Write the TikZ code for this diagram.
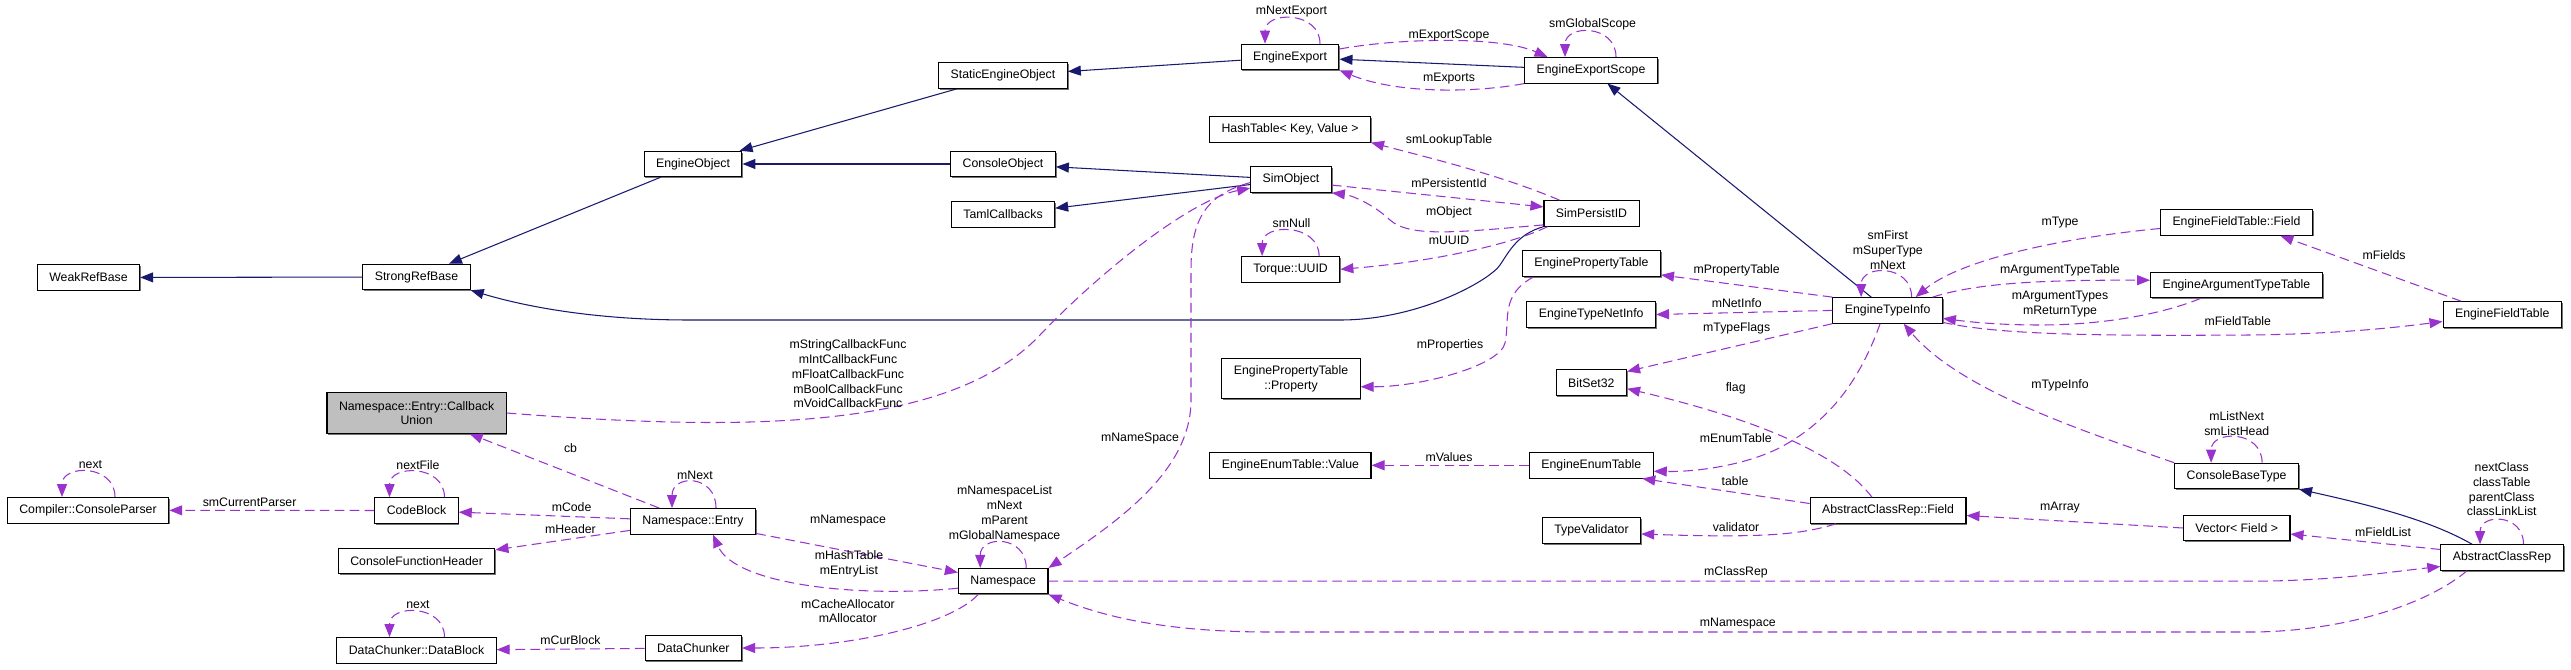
\documentclass[tikz,border=0pt]{standalone}
\usepackage{fontspec}
\setmainfont{Liberation Sans}
\usetikzlibrary{arrows.meta, shadows}
\definecolor{inheritblue}{RGB}{25, 25, 112}
\definecolor{usepurple}{RGB}{154, 50, 205}
\definecolor{rootgray}{RGB}{191, 191, 191}
\tikzset{
    classbox/.style={rectangle, draw=black, fill=white, line width=0.6pt, minimum height=0.51cm, inner xsep=0.24cm, inner ysep=0.05cm, align=center, font=\fontsize{7}{8.4}\selectfont, drop shadow={shadow xshift=0.025cm, shadow yshift=-0.025cm, fill=black!55, opacity=1}},
    twoline/.style={classbox, minimum height=0.81cm},
    rootbox/.style={twoline, fill=rootgray},
    inherit/.style={-{Triangle[length=0.26cm, width=0.2cm]}, inheritblue, line width=0.6pt},
    uses/.style={-{Triangle[length=0.26cm, width=0.2cm]}, usepurple, line width=0.6pt, dash pattern=on 5.5pt off 3pt},
    lbl/.style={align=center, inner sep=0pt, font=\fontsize{7}{8.4}\selectfont}
}

\begin{document}
\begin{tikzpicture}[x=0.02cm, y=-0.02cm]
    \useasboundingbox (0,0) rectangle (2571,669);

    % classes
    \node (weakrefbase) [classbox] at (88.5,277.5) {WeakRefBase};
    \node (strongrefbase) [classbox] at (416.5,277) {StrongRefBase};
    \node (engineobject) [classbox] at (693,164) {EngineObject};
    \node (staticengineobject) [classbox] at (1003,75.7) {StaticEngineObject};
    \node (engineexport) [classbox] at (1290,57) {EngineExport};
    \node (engineexportscope) [classbox] at (1591,70.3) {EngineExportScope};
    \node (hashtable) [classbox] at (1290,129.3) {HashTable< Key, Value >};
    \node (consoleobject) [classbox] at (1003,164) {ConsoleObject};
    \node (simobject) [classbox] at (1291,179.6) {SimObject};
    \node (tamlcallbacks) [classbox] at (1003,214.5) {TamlCallbacks};
    \node (simpersistid) [classbox] at (1591.5,213.4) {SimPersistID};
    \node (torqueuuid) [classbox] at (1290.6,269.3) {Torque::UUID};
    \node (propertytable) [classbox] at (1591.4,263.7) {EnginePropertyTable};
    \node (typenetinfo) [classbox] at (1591.2,314.5) {EngineTypeNetInfo};
    \node (property) [twoline] at (1291,378.7) {EnginePropertyTable\\::Property};
    \node (bitset) [classbox] at (1591.3,382.7) {BitSet32};
    \node (enumvalue) [classbox] at (1290.4,465.3) {EngineEnumTable::Value};
    \node (enumtable) [classbox] at (1591.3,465.3) {EngineEnumTable};
    \node (typevalidator) [classbox] at (1591.5,530.5) {TypeValidator};
    \node (namespace) [classbox] at (1003.2,581.2) {Namespace};
    \node (callbackunion) [rootbox] at (416.6,413) {Namespace::Entry::Callback\\Union};
    \node (consoleparser) [classbox] at (88,510.3) {Compiler::ConsoleParser};
    \node (codeblock) [classbox] at (416.5,510.5) {CodeBlock};
    \node (nsentry) [classbox] at (693,521.3) {Namespace::Entry};
    \node (funcheader) [classbox] at (416.6,561.2) {ConsoleFunctionHeader};
    \node (datablock) [classbox] at (416.5,650.3) {DataChunker::DataBlock};
    \node (datachunker) [classbox] at (693.3,648) {DataChunker};
    \node (typeinfo) [classbox] at (1887.6,310.4) {EngineTypeInfo};
    \node (fieldtablefield) [classbox] at (2236.4,222.5) {EngineFieldTable::Field};
    \node (argtypetable) [classbox] at (2236.4,285.2) {EngineArgumentTypeTable};
    \node (fieldtable) [classbox] at (2502.2,314.5) {EngineFieldTable};
    \node (classrepfield) [classbox] at (1888,510.5) {AbstractClassRep::Field};
    \node (consolebasetype) [classbox] at (2236.6,476) {ConsoleBaseType};
    \node (vectorfield) [classbox] at (2236.6,528) {Vector< Field >};
    \node (classrep) [classbox] at (2502,557.5) {AbstractClassRep};

    % inheritance
    \draw [inherit] (strongrefbase) -- (weakrefbase);
    \draw [inherit] (engineobject) -- (strongrefbase);
    \draw [inherit] (staticengineobject) -- (engineobject);
    \draw [inherit] (consoleobject) -- (engineobject);
    \draw [inherit] (engineexport) -- (staticengineobject);
    \draw [inherit] (engineexportscope) -- (engineexport);
    \draw [inherit] (simobject) -- (consoleobject);
    \draw [inherit] (simobject) -- (tamlcallbacks);
    \draw [inherit] (simpersistid.south west) .. controls (1518,234) and (1510,250) .. (1500,265) .. controls (1490,280) and (1420,320) .. (1340,320) -- (690,320) .. controls (600,320) and (530,308) .. (strongrefbase.south east);
    \draw [inherit] (typeinfo) -- (engineexportscope);
    \draw [inherit] ([xshift=-0.6cm]classrep.north) .. controls (2430,520) and (2370,505) .. (consolebasetype.south east);

    % usage
    \draw [uses] ([xshift=0.54cm]consoleparser.north) .. controls +(0,-33) and +(0,-33) .. ([xshift=-0.52cm]consoleparser.north);
    \draw [uses] (codeblock) -- (consoleparser);
    \draw [uses] ([xshift=0.56cm]codeblock.north) .. controls +(0,-33) and +(0,-33) .. ([xshift=-0.54cm]codeblock.north);
    \draw [uses] (nsentry) -- (codeblock);
    \draw [uses] (nsentry) -- (funcheader);
    \draw [uses] (nsentry) -- (callbackunion);
    \draw [uses] ([xshift=0.46cm]nsentry.north) .. controls +(0,-34) and +(0,-34) .. ([xshift=-0.42cm]nsentry.north);
    \draw [uses] (callbackunion.east) .. controls (750,432) and (950,430) .. (1040,335) .. controls (1100,272) and (1190,200) .. ([yshift=-0.17cm]simobject.west);
    \draw [uses] (nsentry) -- (namespace);
    \draw [uses] ([yshift=-0.14cm]namespace.west) .. controls (860,598) and (735,585) .. ([xshift=0.4cm]nsentry.south);
    \draw [uses] ([xshift=0.46cm]namespace.north) .. controls +(0,-33) and +(0,-33) .. ([xshift=-0.46cm]namespace.north);
    \draw [uses] ([xshift=-0.5cm]namespace.south) .. controls (950,625) and (850,648) .. (datachunker.east);
    \draw [uses] (datachunker) -- (datablock);
    \draw [uses] ([xshift=0.56cm]datablock.north) .. controls +(0,-33) and +(0,-33) .. ([xshift=-0.54cm]datablock.north);
    \draw [uses] ([yshift=-0.06cm]simobject.west) .. controls (1205,195) and (1191,220) .. (1191,270) -- (1191,400) .. controls (1191,470) and (1120,520) .. (namespace.north east);
    \draw [uses] ([xshift=-0.7cm]classrep.south) .. controls (2420,610) and (2330,632) .. (2250,632) -- (1270,632) .. controls (1160,632) and (1100,615) .. (namespace.south east);
    \draw [uses] (namespace.east) -- (2250,581.2) .. controls (2330,581.2) and (2390,572) .. ([yshift=-0.18cm]classrep.west);
    \draw [uses] ([xshift=0.6cm]engineexport.north) .. controls +(0,-33) and +(0,-33) .. ([xshift=-0.5cm]engineexport.north);
    \draw [uses] ([yshift=0.16cm]engineexport.east) .. controls (1400,38) and (1500,36) .. ([xshift=-0.87cm]engineexportscope.north);
    \draw [uses] (engineexportscope.south west) .. controls (1480,92) and (1400,95) .. (engineexport.south east);
    \draw [uses] ([xshift=0.5cm]engineexportscope.north) .. controls +(0,-33) and +(0,-33) .. ([xshift=-0.52cm]engineexportscope.north);
    \draw [uses] ([xshift=-0.64cm]simpersistid.north) .. controls (1500,175) and (1430,158) .. (hashtable.south east);
    \draw [uses] ([yshift=-0.11cm]simobject.east) -- ([yshift=0.13cm]simpersistid.west);
    \draw [uses] ([yshift=-0.23cm]simpersistid.west) .. controls (1460,232) and (1410,238) .. (1390,220) .. controls (1372,203) and (1350,195) .. (simobject.south east);
    \draw [uses] ([xshift=-0.88cm]simpersistid.south) .. controls (1510,245) and (1430,262) .. (torqueuuid.east);
    \draw [uses] ([xshift=0.57cm]torqueuuid.north) .. controls +(0,-33) and +(0,-33) .. ([xshift=-0.57cm]torqueuuid.north);
    \draw [uses] (typeinfo.north west) -- ([yshift=0.04cm]propertytable.south east);
    \draw [uses] (typeinfo.west) -- (typenetinfo.east);
    \draw [uses] (typeinfo.south west) -- ([yshift=-0.04cm]bitset.north east);
    \draw [uses] ([xshift=-0.32cm]classrepfield.north) .. controls (1840,455) and (1760,420) .. ([yshift=-0.12cm]bitset.east);
    \draw [uses] ([xshift=-1.16cm]propertytable.south) .. controls (1500,295) and (1510,320) .. (1505,343) .. controls (1500,366) and (1420,387) .. ([yshift=-0.16cm]property.east);
    \draw [uses] ([xshift=-0.15cm]typeinfo.south) .. controls (1860,380) and (1830,420) .. (1783,446) .. controls (1750,464) and (1700,472) .. ([yshift=-0.12cm]enumtable.east);
    \draw [uses] ([yshift=0.14cm]classrepfield.west) -- ([xshift=-0.23cm]enumtable.south east);
    \draw [uses] (enumtable) -- (enumvalue);
    \draw [uses] ([xshift=-1.04cm]classrepfield.south) .. controls (1800,535) and (1760,538) .. ([yshift=-0.07cm]typevalidator.east);
    \draw [uses] ([xshift=0.48cm]typeinfo.north) .. controls +(0,-33) and +(0,-33) .. ([xshift=-0.53cm]typeinfo.north);
    \draw [uses] ([yshift=-0.12cm]fieldtablefield.west) .. controls (2060,238) and (1960,260) .. ([xshift=0.56cm]typeinfo.north);
    \draw [uses] ([xshift=0.9cm]typeinfo.north) .. controls (1980,282) and (2050,280) .. ([yshift=0.1cm]argtypetable.west);
    \draw [uses] ([xshift=-0.72cm]argtypetable.south) .. controls (2160,315) and (2100,325) .. (2040,325) .. controls (2000,325) and (1970,322) .. ([yshift=-0.16cm]typeinfo.east);
    \draw [uses] ([yshift=-0.24cm]typeinfo.east) .. controls (2000,335) and (2100,336) .. (2250,335) .. controls (2340,334) and (2400,327) .. ([yshift=-0.14cm]fieldtable.west);
    \draw [uses] ([xshift=-0.82cm]fieldtable.north) -- ([xshift=0.88cm]fieldtablefield.south);
    \draw [uses] (consolebasetype.north west) .. controls (2080,430) and (1960,390) .. ([xshift=0.32cm]typeinfo.south);
    \draw [uses] ([xshift=0.51cm]consolebasetype.north) .. controls +(0,-33) and +(0,-33) .. ([xshift=-0.51cm]consolebasetype.north);
    \draw [uses] (vectorfield.west) -- ([yshift=-0.1cm]classrepfield.east);
    \draw [uses] ([yshift=0.16cm]classrep.west) -- ([yshift=-0.12cm]vectorfield.east);
    \draw [uses] ([xshift=0.43cm]classrep.north) .. controls +(0,-31) and +(0,-31) .. ([xshift=-0.44cm]classrep.north);

    % member labels
    \node (l-parsernext) [lbl] at (90.5,465) {next};
    \node (l-nextfile) [lbl] at (418,465) {nextFile};
    \node (l-blocknext) [lbl] at (418,605) {next};
    \node (l-entrynext) [lbl] at (695,475.7) {mNext};
    \node (l-nsself) [lbl] at (1004.6,513.9) {mNamespaceList\\mNext\\mParent\\mGlobalNamespace};
    \node (l-nextexport) [lbl] at (1291.5,11.7) {mNextExport};
    \node (l-globalscope) [lbl] at (1592.6,24.3) {smGlobalScope};
    \node (l-smnull) [lbl] at (1291.5,223.3) {smNull};
    \node (l-typeself) [lbl] at (1887.8,250.3) {smFirst\\mSuperType\\mNext};
    \node (l-listself) [lbl] at (2236.7,423.4) {mListNext\\smListHead};
    \node (l-classself) [lbl] at (2501.7,489.3) {nextClass\\classTable\\parentClass\\classLinkList};
    \node (l-curparser) [lbl] at (249.6,502.7) {smCurrentParser};
    \node (l-code) [lbl] at (571.6,506.7) {mCode};
    \node (l-header) [lbl] at (570.5,529) {mHeader};
    \node (l-cb) [lbl] at (570.5,447.7) {cb};
    \node (l-callbacks) [lbl] at (848,374) {mStringCallbackFunc\\mIntCallbackFunc\\mFloatCallbackFunc\\mBoolCallbackFunc\\mVoidCallbackFunc};
    \node (l-entryns) [lbl] at (848,521) {mNamespace};
    \node (l-hashtable) [lbl] at (849,564) {mHashTable\\mEntryList};
    \node (l-allocator) [lbl] at (848,611) {mCacheAllocator\\mAllocator};
    \node (l-curblock) [lbl] at (570.5,640) {mCurBlock};
    \node (l-simns) [lbl] at (1140,438) {mNameSpace};
    \node (l-classns) [lbl] at (1737.8,624) {mNamespace};
    \node (l-classrep) [lbl] at (1736,572.7) {mClassRep};
    \node (l-exportscope) [lbl] at (1449,35.7) {mExportScope};
    \node (l-exports) [lbl] at (1449,79) {mExports};
    \node (l-lookup) [lbl] at (1449,140) {smLookupTable};
    \node (l-persistent) [lbl] at (1449,183.3) {mPersistentId};
    \node (l-object) [lbl] at (1449,212.3) {mObject};
    \node (l-uuid) [lbl] at (1449,240) {mUUID};
    \node (l-proptable) [lbl] at (1736.7,270) {mPropertyTable};
    \node (l-netinfo) [lbl] at (1736.7,303.3) {mNetInfo};
    \node (l-typeflags) [lbl] at (1736.7,328.3) {mTypeFlags};
    \node (l-flag) [lbl] at (1735.7,388.3) {flag};
    \node (l-properties) [lbl] at (1450,345) {mProperties};
    \node (l-enumtable) [lbl] at (1735.7,438.3) {mEnumTable};
    \node (l-table) [lbl] at (1735,480.7) {table};
    \node (l-values) [lbl] at (1449,456.7) {mValues};
    \node (l-validator) [lbl] at (1736,526.7) {validator};
    \node (l-type) [lbl] at (2060,222.7) {mType};
    \node (l-argtable) [lbl] at (2060,270.7) {mArgumentTypeTable};
    \node (l-argtypes) [lbl] at (2060,304) {mArgumentTypes\\mReturnType};
    \node (l-fieldtable) [lbl] at (2237.8,320.7) {mFieldTable};
    \node (l-fields) [lbl] at (2384,255) {mFields};
    \node (l-typeinfo) [lbl] at (2060,385) {mTypeInfo};
    \node (l-array) [lbl] at (2060,507.7) {mArray};
    \node (l-fieldlist) [lbl] at (2383,531.7) {mFieldList};
\end{tikzpicture}
\end{document}
